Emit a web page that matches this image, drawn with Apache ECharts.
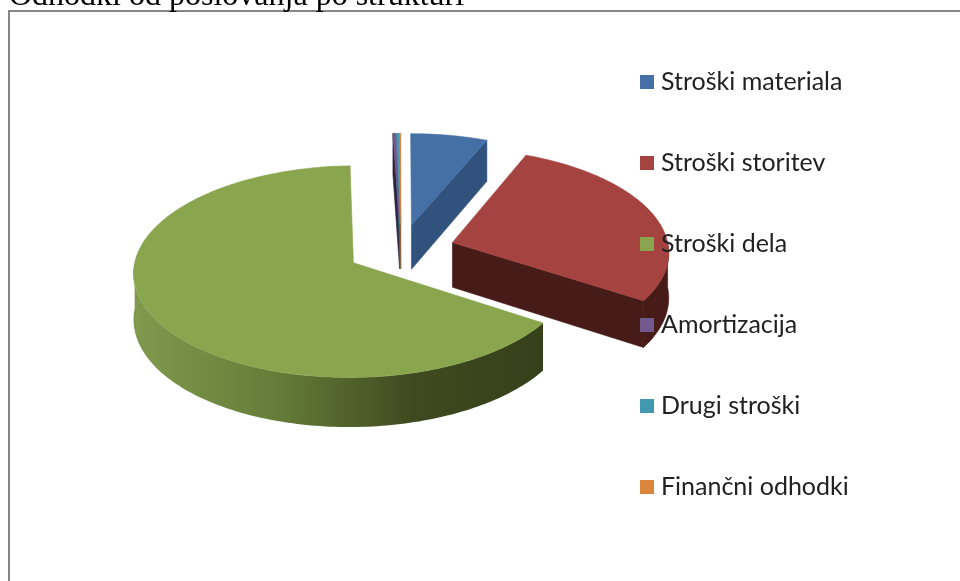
<!DOCTYPE html>
<html>
<head>
<meta charset="utf-8">
<style>html,body{margin:0;padding:0;background:#fff;overflow:hidden}#chart{width:960px;height:581px}</style>
<script src="https://cdn.jsdelivr.net/npm/echarts@6/dist/echarts.min.js"></script>
</head>
<body>
<div id="chart"></div>
<script>
// values in percent
var categories = ['Stroški materiala', 'Stroški storitev', 'Stroški dela', 'Amortizacija', 'Drugi stroški', 'Finančni odhodki']
var shares = [6.3, 27.9, 65.25, 0.25, 0.2, 0.1]
var topColors = ['#4570a6', '#a54340', '#89a54e', '#71588f', '#4198af', '#db843d']
var sideColors = ['#30527c', '#471b18', '#36401a', '#2b2140', '#2a6f80', '#9a5a28']

// pie geometry on screen
var CX = 401, CY = 250, RX = 216.5, RY = 103, PERSP = 0.0825, DEPTH = 45, EXPLODE = 0.25

var total = shares.reduce(function(a, b){ return a + b }, 0)

// unit pie plane -> screen, y grows toward the viewer
function project(x, y){
    var s = 1 / (1 - PERSP * y)
    return [CX + RX * x * s, CY + RY * y * s, DEPTH * s]
}
function rim(off, a){
    // a in radians, clockwise from the top
    return project(off[0] + Math.sin(a), off[1] - Math.cos(a))
}
function arc(off, a0, a1){
    var pts = []
    var n = Math.max(2, Math.ceil(Math.abs(a1 - a0) / 0.02))
    for (var i = 0; i <= n; i++) pts.push(rim(off, a0 + (a1 - a0) * i / n))
    return pts
}
function face(pts, fill, z, stroke){
    var style = { fill: fill }
    // hides the hairline seam between neighbouring faces
    if (stroke) { style.stroke = stroke; style.lineWidth = 0.6 }
    return { type: 'polygon', z2: z, shape: { points: pts }, style: style }
}
function cutFace(off, a, fill){
    var c = project(off[0], off[1])
    var p = rim(off, a)
    return face([[c[0], c[1]], [p[0], p[1]], [p[0], p[1] + p[2]], [c[0], c[1] + c[2]]], fill, 1, fill)
}
function sideFill(i){
    if (i !== 2) return sideColors[i]
    return new echarts.graphic.LinearGradient(0, 0, 1, 0, [
        { offset: 0, color: '#7f9a4d' },
        { offset: 0.35, color: '#657d39' },
        { offset: 0.68, color: '#3f4a20' },
        { offset: 1, color: '#36401a' }
    ])
}

function renderSlice(i){
    var before = shares.slice(0, i).reduce(function(a, b){ return a + b }, 0)
    var a0 = before / total * 2 * Math.PI
    var a1 = (before + shares[i]) / total * 2 * Math.PI
    var mid = (a0 + a1) / 2
    var off = [EXPLODE * Math.sin(mid), -EXPLODE * Math.cos(mid)]
    var kids = []

    // outer wall, only the part that faces the viewer
    var wa0 = Math.max(a0, Math.PI / 2), wa1 = Math.min(a1, Math.PI * 1.5)
    if (wa1 > wa0) {
        var top = arc(off, wa0, wa1)
        var wall = top.map(function(p){ return [p[0], p[1]] })
        top.slice().reverse().forEach(function(p){ wall.push([p[0], p[1] + p[2]]) })
        kids.push(face(wall, sideFill(i), 1, i !== 2 ? sideColors[i] : null))
    }
    // cut faces
    if (Math.sin(a1) > 0) kids.push(cutFace(off, a1, sideColors[i]))
    if (Math.sin(a0) < 0) kids.push(cutFace(off, a0, sideColors[i]))

    // top
    var c = project(off[0], off[1])
    var pts = [[c[0], c[1]]].concat(arc(off, a0, a1).map(function(p){ return [p[0], p[1]] }))
    kids.push(face(pts, topColors[i], 2, topColors[i]))
    return { type: 'group', children: kids }
}

var series = categories.map(function(name, i){
    return {
        name: name,
        type: 'custom',
        coordinateSystem: 'none',
        silent: true,
        itemStyle: { color: topColors[i] },
        data: [shares[i]],
        renderItem: function(){ return renderSlice(i) }
    }
})

var chart = echarts.init(document.getElementById('chart'), null, { renderer: 'canvas' })
chart.setOption({
    animation: false,
    backgroundColor: '#fff',
    title: {
        text: 'Odhodki od poslovanja po strukturi',
        left: 9,
        top: -19,
        padding: 0,
        textStyle: { fontFamily: 'Liberation Serif', fontSize: 32, fontWeight: 'normal', color: '#000' }
    },
    legend: {
        orient: 'vertical',
        left: 640,
        top: 67,
        data: categories,
        icon: 'rect',
        itemWidth: 14,
        itemHeight: 14,
        itemGap: 51,
        selectedMode: false,
        padding: 0,
        textStyle: { fontFamily: 'Lato', fontSize: 25, color: '#222', padding: [0, 0, 0, 2], height: 30, lineHeight: 30 }
    },
    graphic: [{
        type: 'rect',
        z: -1,
        shape: { x: 9, y: 11, width: 1000, height: 600 },
        style: { fill: '#fff', stroke: '#868686', lineWidth: 2 }
    }],
    series: series
})
</script>
</body>
</html>
